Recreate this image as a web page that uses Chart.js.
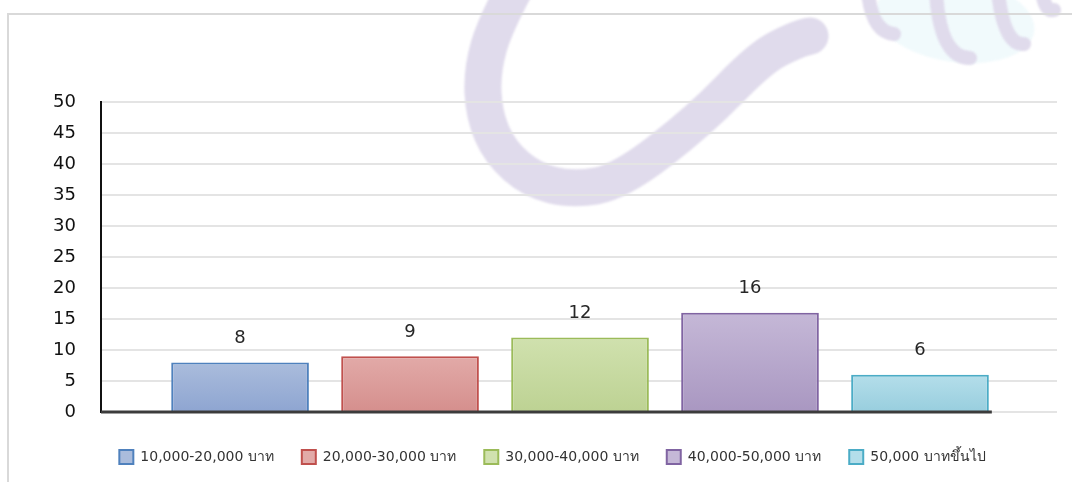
<!DOCTYPE html>
<html>
<head>
<meta charset="utf-8">
<script src="https://cdn.jsdelivr.net/npm/chart.js@4.4.0/dist/chart.umd.min.js"></script>
<style>
  html, body { margin: 0; padding: 0; background: #fff; }
  #wrap { width: 1072px; height: 482px; position: relative; }
</style>
</head>
<body>
<div id="wrap"><canvas id="incomeChart"></canvas></div>
<script>
// income groups and number of people in each
const categories = ['10,000-20,000 บาท', '20,000-30,000 บาท', '30,000-40,000 บาท', '40,000-50,000 บาท', '50,000 บาทขึ้นไป'];
const counts = [8, 9, 12, 16, 6];
const yMax = 50;
const yStep = 5;

const borderColors = ['#4f81bd', '#c0504d', '#9bbb59', '#8064a2', '#4bacc6'];
const topColors = ['#aabcdc', '#e2aaa8', '#d0e1ae', '#c5b8d7', '#b4deea'];
const bottomColors = ['#8ea5d1', '#d58f8d', '#bdd293', '#a997c1', '#98cede'];

const tickFont = { family: "'DejaVu Sans', sans-serif", size: 18 };
const legendFont = { family: "Tahoma, 'DejaVu Sans', sans-serif", size: 14 };

// vertical gradient from the top of each bar down to zero
function barFill(i) {
    return (ctx) => {
        const chart = ctx.chart;
        if (!chart.chartArea) return bottomColors[i];
        const y = chart.scales.y;
        const g = chart.ctx.createLinearGradient(0, y.getPixelForValue(counts[i]), 0, y.getPixelForValue(0));
        g.addColorStop(0, topColors[i]);
        g.addColorStop(1, bottomColors[i]);
        return g;
    };
}

// smooth stroke through a list of points
function strokeThrough(c, pts) {
    c.beginPath();
    c.moveTo(pts[0][0], pts[0][1]);
    for (let i = 1; i < pts.length - 1; i++) {
        const mx = (pts[i][0] + pts[i + 1][0]) / 2;
        const my = (pts[i][1] + pts[i + 1][1]) / 2;
        c.quadraticCurveTo(pts[i][0], pts[i][1], mx, my);
    }
    const end = pts[pts.length - 1];
    c.lineTo(end[0], end[1]);
    c.stroke();
}

// frame and the faint swirl behind the plot
const backdrop = {
    id: 'backdrop',
    beforeDraw(chart) {
        const c = chart.ctx;
        c.save();
        c.filter = 'blur(1px)';

        // pale blue glow inside the spring
        c.fillStyle = 'rgba(240,249,252,0.9)';
        c.beginPath();
        c.ellipse(955, 20, 80, 42, 0.15, 0, Math.PI * 2);
        c.fill();

        c.lineCap = 'round';
        c.strokeStyle = '#e0dbec';
        c.lineWidth = 37;
        strokeThrough(c, [[522, -25], [496, 22], [482, 70], [484, 115], [500, 152], [532, 180],
            [572, 190], [620, 182], [700, 120], [760, 58], [795, 40], [810, 36]]);

        // spring loops in the corner
        c.lineWidth = 14;
        [[868, -8, 872, 32, 894, 34], [936, -8, 940, 58, 970, 58], [998, -8, 1004, 46, 1024, 44], [1042, -8, 1045, 12, 1054, 10]].forEach(p => {
            c.beginPath();
            c.moveTo(p[0], p[1]);
            c.quadraticCurveTo(p[2], p[3], p[4], p[5]);
            c.stroke();
        });
        c.filter = 'none';

        c.strokeStyle = '#d9d9d9';
        c.lineWidth = 2;
        c.lineCap = 'butt';
        c.beginPath();
        c.moveTo(1072, 14);
        c.lineTo(8, 14);
        c.lineTo(8, 482);
        c.stroke();
        c.restore();
    }
};

// dark baseline under the bars and the value above each bar
const barExtras = {
    id: 'barExtras',
    afterLayout(chart) {
        // legend row sits a little right of the canvas centre
        chart.legend.left += 48;
    },
    afterDatasetsDraw(chart) {
        const c = chart.ctx;
        const area = chart.chartArea;
        const y0 = chart.scales.y.getPixelForValue(0);
        const last = chart.getDatasetMeta(counts.length - 1).data[0];
        c.save();
        c.strokeStyle = '#3c3c3c';
        c.lineWidth = 3;
        c.beginPath();
        c.moveTo(area.left, y0);
        c.lineTo(last.x + last.width / 2 + 3, y0);
        c.stroke();

        c.fillStyle = '#262626';
        c.font = `${tickFont.size}px ${tickFont.family}`;
        c.textAlign = 'center';
        c.textBaseline = 'middle';
        counts.forEach((v, i) => {
            const bar = chart.getDatasetMeta(i).data[0];
            c.fillText(String(v), bar.x, bar.y - 24);
        });
        c.restore();
    }
};

const datasets = categories.map((label, i) => ({
    label: label,
    data: [{ x: i, y: counts[i] }],
    backgroundColor: barFill(i),
    borderColor: borderColors[i],
    borderWidth: 2,
    grouped: false,
    categoryPercentage: 1,
    barPercentage: 0.81
}));

new Chart(document.getElementById('incomeChart'), {
    type: 'bar',
    data: { datasets: datasets },
    options: {
        responsive: true,
        maintainAspectRatio: false,
        animation: false,
        layout: { padding: { top: 102, right: 15, bottom: 8, left: 0 } },
        scales: {
            x: {
                type: 'linear',
                offset: false,
                min: -0.818,
                max: 4.806,
                grid: { display: false },
                border: { display: false },
                ticks: { display: false },
                // one tick per group so bar widths follow the group spacing
                afterBuildTicks: (scale) => { scale.ticks = categories.map((_, i) => ({ value: i })); },
                afterFit: (scale) => { scale.height = 10; }
            },
            y: {
                min: 0,
                max: yMax,
                ticks: { stepSize: yStep, font: tickFont, color: '#111', padding: 25 },
                grid: { color: '#e4e4e4', lineWidth: 2, drawTicks: false },
                border: { color: '#111', width: 2 },
                afterFit: (scale) => { scale.width = 101; }
            }
        },
        plugins: {
            tooltip: { enabled: false },
            legend: {
                position: 'bottom',
                labels: {
                    font: legendFont,
                    color: '#333',
                    boxWidth: 14,
                    boxHeight: 14,
                    padding: 28,
                    generateLabels: (chart) => chart.data.datasets.map((ds, i) => ({
                        text: ds.label,
                        fillStyle: topColors[i],
                        strokeStyle: borderColors[i],
                        lineWidth: 2,
                        fontColor: '#333',
                        hidden: !chart.isDatasetVisible(i),
                        datasetIndex: i
                    }))
                }
            }
        }
    },
    plugins: [backdrop, barExtras]
});
</script>
</body>
</html>
